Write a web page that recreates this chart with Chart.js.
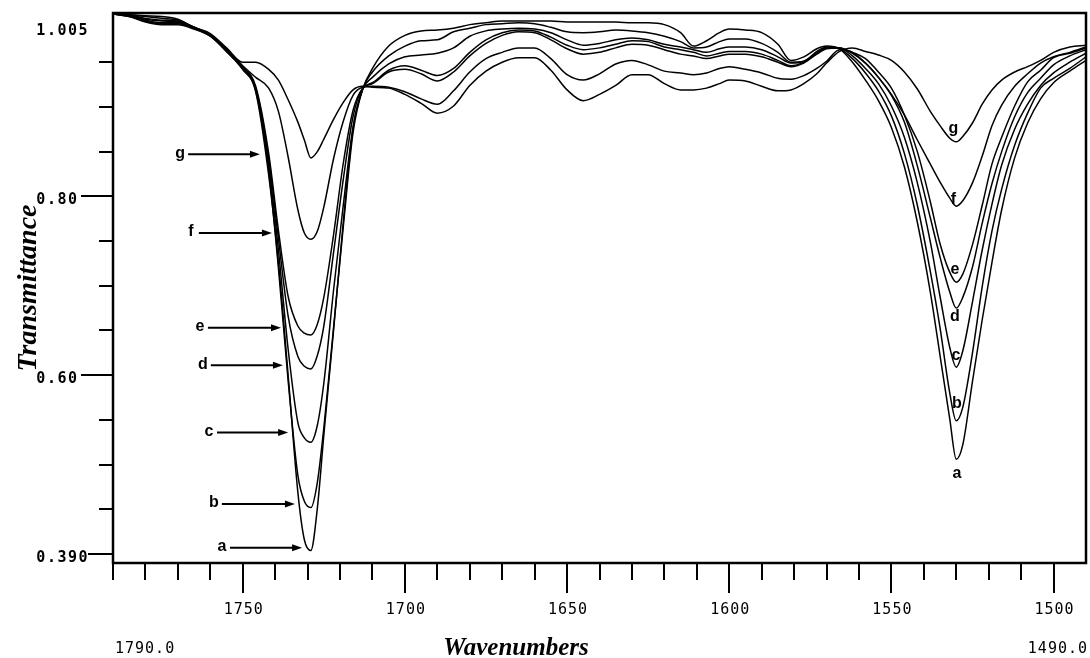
<!DOCTYPE html>
<html><head><meta charset="utf-8">
<script src="https://cdn.jsdelivr.net/npm/chart.js@4/dist/chart.umd.min.js"></script>
<style>html,body{margin:0;padding:0;background:#fff;}#wrap{width:1090px;height:658px;}</style>
</head><body>
<div id="wrap"><canvas id="c" width="1090" height="658"></canvas></div>
<script>
// ---- data (wavenumbers in cm-1, transmittance) ----
const wavenumbers = [1790,1785,1780,1775,1770,1765,1760,1755,1750,1746,1742,1739,1736,1733,1731,1729,1727,1725,1722,1719,1716,1713,1710,1705,1700,1695,1690,1685,1680,1675,1670,1665,1660,1655,1650,1645,1640,1635,1630,1625,1620,1615,1611,1607,1603,1600,1595,1590,1585,1581,1577,1573,1570,1566,1562,1558,1554,1550,1546,1542,1538,1535,1532,1530,1528,1525,1522,1519,1516,1512,1508,1504,1500,1495,1490];

const seriesA = [1.004,1.001,0.995,0.992,0.992,0.987,0.979,0.962,0.942,0.917,
0.824,0.726,0.600,0.469,0.416,0.404,0.451,0.533,0.650,0.771,
0.876,0.920,0.943,0.968,0.980,0.985,0.986,0.988,0.992,0.994,
0.996,0.996,0.996,0.996,0.995,0.995,0.995,0.995,0.994,0.994,
0.992,0.983,0.968,0.974,0.983,0.987,0.986,0.983,0.970,0.952,
0.956,0.965,0.968,0.965,0.950,0.930,0.907,0.877,0.833,0.771,
0.693,0.622,0.551,0.506,0.522,0.593,0.662,0.726,0.785,0.843,
0.882,0.909,0.927,0.940,0.952];
const seriesB = [1.004,1.001,0.996,0.993,0.993,0.988,0.979,0.962,0.942,0.918,
0.829,0.720,0.594,0.488,0.459,0.452,0.480,0.541,0.653,0.766,
0.871,0.920,0.939,0.957,0.968,0.974,0.975,0.984,0.988,0.992,
0.993,0.994,0.993,0.989,0.984,0.983,0.984,0.986,0.985,0.983,
0.979,0.973,0.966,0.967,0.973,0.976,0.976,0.971,0.961,0.950,
0.951,0.962,0.967,0.965,0.954,0.938,0.918,0.890,0.848,0.790,
0.716,0.653,0.580,0.549,0.564,0.625,0.699,0.761,0.808,0.857,
0.893,0.921,0.932,0.943,0.956];
const seriesC = [1.004,1.002,0.997,0.994,0.994,0.988,0.980,0.964,0.943,0.920,
0.835,0.740,0.629,0.547,0.530,0.525,0.544,0.591,0.695,0.790,
0.877,0.920,0.933,0.948,0.956,0.958,0.960,0.966,0.979,0.985,
0.987,0.988,0.987,0.983,0.975,0.969,0.971,0.975,0.977,0.975,
0.970,0.967,0.964,0.961,0.965,0.967,0.967,0.964,0.956,0.949,
0.951,0.960,0.966,0.966,0.957,0.943,0.926,0.901,0.866,0.815,
0.749,0.688,0.631,0.609,0.627,0.682,0.740,0.791,0.835,0.875,
0.903,0.924,0.938,0.950,0.960];
const seriesD = [1.004,1.002,0.998,0.996,0.995,0.989,0.980,0.964,0.943,0.921,
0.843,0.753,0.666,0.621,0.610,0.607,0.622,0.655,0.737,0.819,
0.889,0.921,0.927,0.941,0.946,0.941,0.935,0.943,0.961,0.975,
0.983,0.986,0.985,0.978,0.969,0.964,0.966,0.970,0.974,0.973,
0.967,0.964,0.961,0.957,0.960,0.962,0.962,0.959,0.952,0.946,
0.950,0.960,0.966,0.966,0.960,0.949,0.933,0.913,0.883,0.834,
0.776,0.732,0.693,0.675,0.687,0.721,0.770,0.814,0.850,0.889,
0.916,0.932,0.947,0.957,0.964];
const seriesE = [1.004,1.003,0.999,0.997,0.996,0.989,0.980,0.964,0.945,0.923,
0.848,0.762,0.688,0.655,0.647,0.645,0.657,0.687,0.757,0.837,
0.896,0.921,0.926,0.939,0.942,0.937,0.929,0.939,0.957,0.971,
0.980,0.984,0.983,0.975,0.965,0.959,0.961,0.966,0.970,0.969,
0.964,0.959,0.957,0.954,0.957,0.959,0.959,0.956,0.950,0.945,
0.949,0.959,0.965,0.966,0.961,0.954,0.939,0.921,0.891,0.850,
0.794,0.747,0.715,0.704,0.713,0.746,0.790,0.836,0.866,0.901,
0.928,0.941,0.955,0.960,0.966];
const seriesF = [1.004,1.003,1.001,0.999,0.997,0.989,0.980,0.965,0.946,0.933,
0.921,0.895,0.844,0.785,0.759,0.752,0.761,0.788,0.842,0.884,
0.913,0.922,0.923,0.922,0.917,0.909,0.903,0.918,0.939,0.954,
0.961,0.966,0.966,0.954,0.936,0.930,0.937,0.948,0.952,0.947,
0.940,0.938,0.936,0.938,0.943,0.945,0.942,0.938,0.932,0.931,
0.935,0.943,0.951,0.964,0.961,0.949,0.933,0.914,0.891,0.863,
0.836,0.816,0.798,0.789,0.795,0.815,0.845,0.879,0.902,0.923,
0.937,0.949,0.956,0.961,0.967];
const seriesG = [1.004,1.003,1.002,1.001,0.998,0.989,0.982,0.966,0.950,0.950,
0.942,0.930,0.908,0.883,0.863,0.843,0.850,0.864,0.886,0.905,
0.919,0.923,0.922,0.921,0.914,0.904,0.893,0.901,0.924,0.940,
0.950,0.955,0.955,0.941,0.919,0.907,0.914,0.924,0.936,0.936,
0.926,0.919,0.919,0.921,0.926,0.930,0.929,0.923,0.918,0.919,
0.926,0.937,0.949,0.962,0.966,0.962,0.958,0.952,0.939,0.920,
0.895,0.879,0.865,0.861,0.867,0.882,0.903,0.919,0.930,0.939,
0.945,0.952,0.961,0.967,0.969];

const seriesNames = ['a','b','c','d','e','f','g'];
const xMin = 1490, xMax = 1790;
const yMin = 0.39, yMax = 1.005;
const xMinorTicks = [1790,1780,1770,1760,1740,1730,1720,1710,1690,1680,1670,1660,1640,1630,1620,1610,1590,1580,1570,1560,1540,1530,1520,1510];
const xMajorTicks = [1750,1700,1650,1600,1550,1500];
const xMajorLabels = ['1750','1700','1650','1600','1550','1500'];
const yMinorTicks = [0.45,0.50,0.55,0.65,0.70,0.75,0.85,0.90,0.95];
const yLabelTicks = [0.40,0.60,0.80];
const yLabelTexts = ['0.390','0.60 ','0.80 '];
const yLabelTickLen = [25,32,32];
const xEndLabels = ['1790.0','1490.0'];

// annotation anchors (data units)
const leftLabelWn  = [1756.4,1758.9,1760.4,1762.3,1763.2,1766.0,1769.3];
const leftTipWn    = [1731.7,1733.9,1736.0,1737.6,1738.2,1741.0,1744.7];
const leftArrowT   = [0.407,0.456,0.536,0.611,0.653,0.759,0.847];
const rightLabelWn = [1529.8,1529.8,1530.1,1530.4,1530.4,1530.9,1530.9];
const rightLabelT  = [0.490,0.568,0.622,0.665,0.718,0.796,0.876];

const allSeries = [seriesA,seriesB,seriesC,seriesD,seriesE,seriesF,seriesG];

const decor = {
  id:'decor',
  afterDraw(chart){
    const ctx = chart.ctx, ca = chart.chartArea;
    const xs = chart.scales.x, ys = chart.scales.y;
    ctx.save();
    ctx.strokeStyle = '#000'; ctx.fillStyle = '#000';
    // frame
    ctx.lineWidth = 2.5;
    ctx.strokeRect(ca.left, ca.top, ca.right-ca.left, ca.bottom-ca.top);
    // x ticks
    ctx.lineWidth = 2;
    ctx.beginPath();
    xMinorTicks.forEach(v=>{const p=Math.round(xs.getPixelForValue(v)); ctx.moveTo(p,ca.bottom); ctx.lineTo(p,ca.bottom+17);});
    xMajorTicks.forEach(v=>{const p=Math.round(xs.getPixelForValue(v)); ctx.moveTo(p,ca.bottom); ctx.lineTo(p,ca.bottom+30);});
    // y ticks
    yMinorTicks.forEach(v=>{const p=Math.round(ys.getPixelForValue(v)); ctx.moveTo(ca.left-14,p); ctx.lineTo(ca.left,p);});
    yLabelTicks.forEach((v,i)=>{const p=Math.round(ys.getPixelForValue(v)); ctx.moveTo(ca.left-yLabelTickLen[i],p); ctx.lineTo(ca.left,p);});
    ctx.stroke();
    // x tick labels
    ctx.font = '15px "DejaVu Sans Mono"';
    try{ctx.letterSpacing='1px';}catch(e){}
    ctx.textAlign='center'; ctx.textBaseline='middle';
    xMajorTicks.forEach((v,i)=>ctx.fillText(xMajorLabels[i], xs.getPixelForValue(v)+1, ca.bottom+47));
    ctx.textAlign='left';
    ctx.fillText(xEndLabels[0], ca.left+2, ca.bottom+86);
    ctx.textAlign='right';
    ctx.fillText(xEndLabels[1], ca.right+2, ca.bottom+86);
    // y labels
    ctx.font = 'bold 15px "DejaVu Sans Mono"';
    try{ctx.letterSpacing='1.5px';}catch(e){}
    ctx.textAlign='right';
    yLabelTicks.forEach((v,i)=>ctx.fillText(yLabelTexts[i], ca.left-24, ys.getPixelForValue(v)+4));
    ctx.fillText('1.005', ca.left-24, ys.getPixelForValue(yMax)+18);
    try{ctx.letterSpacing='0px';}catch(e){}
    // axis titles
    ctx.font = 'italic bold 25px "Liberation Serif"';
    ctx.textAlign='center';
    ctx.fillText('Wavenumbers', 516, ca.bottom+86);
    ctx.save();
    ctx.font = 'italic bold 28px "Liberation Serif"';
    ctx.textBaseline='alphabetic';
    ctx.translate(36, 288); ctx.rotate(-Math.PI/2);
    ctx.fillText('Transmittance', 0, 0);
    ctx.restore();
    // curve labels and arrows
    ctx.font = 'bold 16px "Liberation Sans"';
    ctx.textAlign='center'; ctx.textBaseline='middle';
    seriesNames.forEach((n,i)=>{
      const lx = xs.getPixelForValue(leftLabelWn[i]);
      const ty = ys.getPixelForValue(leftArrowT[i]);
      const tx = xs.getPixelForValue(leftTipWn[i]);
      ctx.fillText(n, lx, ty-1);
      ctx.lineWidth = 2;
      ctx.beginPath(); ctx.moveTo(lx+8, ty); ctx.lineTo(tx-8, ty); ctx.stroke();
      ctx.beginPath(); ctx.moveTo(tx, ty); ctx.lineTo(tx-10, ty-3.5); ctx.lineTo(tx-10, ty+3.5); ctx.closePath(); ctx.fill();
      ctx.fillText(n, xs.getPixelForValue(rightLabelWn[i]), ys.getPixelForValue(rightLabelT[i]));
    });
    ctx.restore();
  }
};

new Chart(document.getElementById('c').getContext('2d'), {
  type:'line',
  data:{
    datasets: allSeries.map((vals,i)=>({
      label: seriesNames[i],
      data: wavenumbers.map((w,j)=>({x:w, y:vals[j]})),
      borderColor:'#000', borderWidth:1.5, pointRadius:0, fill:false,
      cubicInterpolationMode:'monotone'
    }))
  },
  options:{
    responsive:false, animation:false,
    layout:{padding:{left:113, top:13, right:4, bottom:95}},
    plugins:{legend:{display:false}, tooltip:{enabled:false}},
    scales:{
      x:{type:'linear', reverse:true, min:xMin, max:xMax, display:false},
      y:{type:'linear', min:yMin, max:yMax, display:false}
    }
  },
  plugins:[decor]
});
</script>
</body></html>
